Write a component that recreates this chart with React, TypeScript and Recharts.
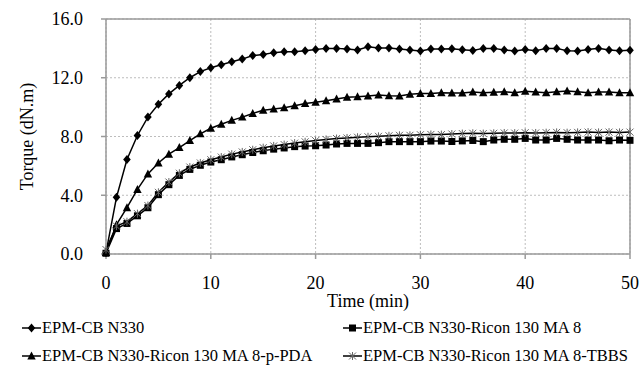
import React from 'react';
import {
  LineChart, Line, XAxis, YAxis, CartesianGrid, ReferenceLine, Legend
} from 'recharts';

const FONT = "'Liberation Serif', 'DejaVu Serif', serif";

// time in minutes
const times = [
  0, 1, 2, 3, 4, 5, 6, 7, 8, 9, 10, 11, 12, 13, 14, 15, 16, 17, 18, 19, 20, 21, 22, 23, 24, 25,
  26, 27, 28, 29, 30, 31, 32, 33, 34, 35, 36, 37, 38, 39, 40, 41, 42, 43, 44, 45, 46, 47, 48, 49, 50,
];

// torque (dN.m) per compound
const cbN330 = [
  0.1, 3.86, 6.43, 8.07, 9.32, 10.2, 10.9, 11.48, 12.0, 12.42, 12.68, 12.89, 13.09, 13.27, 13.51, 13.59,
  13.71, 13.77, 13.77, 13.84, 13.93, 14.0, 14.0, 13.96, 13.89, 14.11, 14.03, 14.03, 13.96, 13.89, 13.82,
  13.96, 13.96, 13.98, 13.91, 13.86, 14.0, 14.0, 13.89, 13.82, 13.93, 13.84, 14.0, 14.0, 13.84, 13.82,
  13.93, 14.0, 13.89, 13.84, 13.87,
];
const riconMA8 = [
  0.05, 1.73, 2.08, 2.6, 3.15, 4.04, 4.72, 5.35, 5.76, 6.04, 6.26, 6.42, 6.61, 6.76, 6.91, 7.03,
  7.14, 7.22, 7.31, 7.35, 7.37, 7.42, 7.49, 7.53, 7.53, 7.53, 7.58, 7.65, 7.65, 7.65, 7.65,
  7.69, 7.69, 7.66, 7.7, 7.73, 7.65, 7.76, 7.81, 7.81, 7.87, 7.76, 7.76, 7.87, 7.81, 7.76,
  7.76, 7.76, 7.71, 7.76, 7.74,
];
const riconPPDA = [
  0.1, 2.0, 3.15, 4.4, 5.45, 6.2, 6.8, 7.25, 7.72, 8.18, 8.56, 8.83, 9.1, 9.32, 9.57, 9.78,
  9.88, 9.96, 10.1, 10.25, 10.33, 10.43, 10.56, 10.68, 10.71, 10.76, 10.82, 10.77, 10.76, 10.88, 10.92,
  10.92, 10.98, 10.97, 10.96, 11.03, 10.98, 11.02, 11.05, 10.98, 11.08, 11.03, 10.98, 11.05, 11.1, 11.05,
  10.98, 11.03, 11.03, 10.98, 10.98,
];
const riconTBBS = [
  0.3, 1.9, 2.2, 2.75, 3.3, 4.2, 4.9, 5.5, 5.92, 6.2, 6.42, 6.6, 6.8, 6.95, 7.1, 7.24,
  7.36, 7.45, 7.55, 7.64, 7.72, 7.8, 7.86, 7.9, 7.95, 7.98, 8.01, 8.05, 8.08, 8.08, 8.12,
  8.14, 8.13, 8.17, 8.2, 8.22, 8.2, 8.22, 8.24, 8.23, 8.26, 8.24, 8.26, 8.28, 8.26, 8.28,
  8.3, 8.28, 8.3, 8.28, 8.3,
];

const xTicks = [0, 10, 20, 30, 40, 50];
const yTicks = [0, 4, 8, 12, 16];

const data = times.map((t, i) => ({
  t,
  a: cbN330[i],
  b: riconMA8[i],
  c: riconPPDA[i],
  d: riconTBBS[i],
}));

type Kind = 'diamond' | 'square' | 'triangle' | 'star';

function marker(kind: Kind, cx: number, cy: number, key?: any) {
  switch (kind) {
    case 'diamond':
      return <polygon key={key} points={`${cx},${cy - 4.5} ${cx + 3.8},${cy} ${cx},${cy + 4.5} ${cx - 3.8},${cy}`} fill="#000" />;
    case 'square':
      return <rect key={key} x={cx - 3.5} y={cy - 3.5} width={7} height={7} fill="#000" />;
    case 'triangle':
      return <polygon key={key} points={`${cx},${cy - 4.5} ${cx + 4.2},${cy + 3.5} ${cx - 4.2},${cy + 3.5}`} fill="#000" />;
    default:
      return (
        <g key={key} stroke="#666" strokeWidth={1}>
          <line x1={cx - 3.5} y1={cy - 3.5} x2={cx + 3.5} y2={cy + 3.5} />
          <line x1={cx - 3.5} y1={cy + 3.5} x2={cx + 3.5} y2={cy - 3.5} />
          <line x1={cx} y1={cy - 4} x2={cx} y2={cy + 4} />
        </g>
      );
  }
}

const dotFor = (kind: Kind) => (p: any) => {
  if (p.cx == null || p.cy == null) return <g key={p.index} />;
  return marker(kind, p.cx, p.cy, p.index);
};

const legendItems: { name: string; kind: Kind }[] = [
  { name: 'EPM-CB N330', kind: 'diamond' },
  { name: 'EPM-CB N330-Ricon 130 MA 8', kind: 'square' },
  { name: 'EPM-CB N330-Ricon 130 MA 8-p-PDA', kind: 'triangle' },
  { name: 'EPM-CB N330-Ricon 130 MA 8-TBBS', kind: 'star' },
];

const LegendBox = () => (
  <div style={{ display: 'grid', gridTemplateColumns: '321px 300px', rowGap: 9, fontFamily: FONT, fontSize: 16.5, color: '#000' }}>
    {legendItems.map((it) => (
      <div key={it.name} style={{ display: 'flex', alignItems: 'center', height: 19, whiteSpace: 'nowrap' }}>
        <svg width={19} height={12} style={{ marginRight: 1 }}>
          <line x1={0} y1={6} x2={19} y2={6} stroke="#000" strokeWidth={1.5} />
          {marker(it.kind, 9.5, 6)}
        </svg>
        <span>{it.name}</span>
      </div>
    ))}
  </div>
);

const YLabel = (props: any) => {
  const vb = props.viewBox || { y: 19, height: 235 };
  const cx = 27;
  const cy = vb.y + vb.height / 2;
  return (
    <text x={cx} y={cy} transform={`rotate(-90 ${cx} ${cy})`} textAnchor="middle" dominantBaseline="central"
      style={{ fontFamily: FONT }} fontSize={18} fill="#000">
      Torque (dN.m)
    </text>
  );
};

const XLabel = (props: any) => {
  const vb = props.viewBox || { x: 106, y: 254, width: 524 };
  return (
    <text x={vb.x + vb.width / 2} y={vb.y + 47} textAnchor="middle" dominantBaseline="central"
      style={{ fontFamily: FONT }} fontSize={18} fill="#000">
      Time (min)
    </text>
  );
};

export default function App() {
  const tickStyle = { fill: '#000', fontSize: 18, style: { fontFamily: FONT } };
  return (
    <div style={{ position: 'absolute', left: 0, top: 0, width: 641, height: 372, background: '#fff', fontFamily: FONT }}>
      <LineChart width={641} height={372} data={data} margin={{ top: 19, right: 11, left: 0, bottom: 60 }}
        style={{ fontFamily: FONT }}>
        <CartesianGrid stroke="#bdbdbd" strokeDasharray="2 2" />
        <XAxis
          dataKey="t"
          type="number"
          domain={[0, 50]}
          ticks={xTicks}
          height={58}
          stroke="#9a9a9a"
          strokeWidth={1.5}
          tickSize={5}
          tickMargin={17}
          tick={tickStyle}
          label={{ content: XLabel }}
        />
        <YAxis
          type="number"
          domain={[0, 16]}
          ticks={yTicks}
          width={106}
          stroke="#9a9a9a"
          strokeWidth={1.5}
          tickSize={5}
          tickMargin={18}
          tick={tickStyle}
          tickFormatter={(v: number) => v.toFixed(1)}
          label={{ content: YLabel }}
        />
        <ReferenceLine y={16} stroke="#9a9a9a" strokeWidth={1.5} />
        <ReferenceLine x={50} stroke="#9a9a9a" strokeWidth={1.5} />
        <Legend
          layout="vertical"
          align="center"
          verticalAlign="middle"
          wrapperStyle={{ position: 'absolute', top: 318, left: 22, width: 621 }}
          content={() => <LegendBox />}
        />
        <Line type="linear" dataKey="a" stroke="#000" strokeWidth={1.5} dot={dotFor('diamond')} activeDot={false} isAnimationActive={false} />
        <Line type="linear" dataKey="c" stroke="#000" strokeWidth={1.5} dot={dotFor('triangle')} activeDot={false} isAnimationActive={false} />
        <Line type="linear" dataKey="b" stroke="#000" strokeWidth={1.5} dot={dotFor('square')} activeDot={false} isAnimationActive={false} />
        <Line type="linear" dataKey="d" stroke="#000" strokeWidth={1.5} dot={dotFor('star')} activeDot={false} isAnimationActive={false} />
      </LineChart>
    </div>
  );
}
